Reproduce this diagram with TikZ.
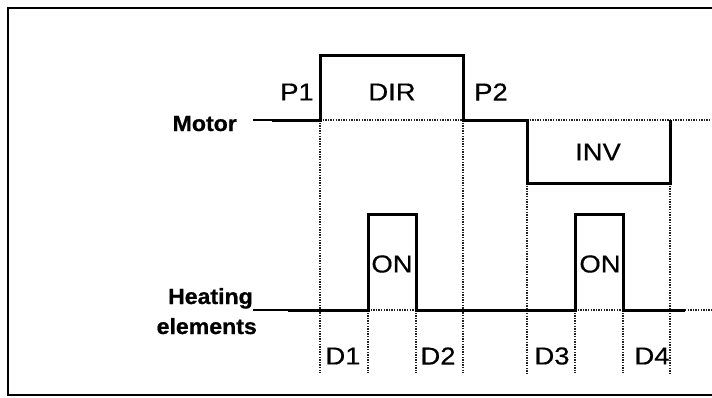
\documentclass[tikz,border=0pt]{standalone}
\usepackage{fontspec}
\setmainfont{Liberation Sans}[FakeStretch=1.12, FakeBold=0.4]
\newfontfamily\signamefont{Liberation Sans}[FakeStretch=1.05, FakeBold=0.8]
\usepackage{tikz}
\usetikzlibrary{positioning}
\definecolor{inkblack}{HTML}{000000}
\definecolor{guidegrey}{HTML}{222222}
\tikzset{
  wave/.style={draw=inkblack, line width=3pt, line join=miter},
  leadline/.style={draw=inkblack, line width=1.4pt},
  guide/.style={draw=guidegrey, line width=1.3pt, dash pattern=on 1.3pt off 1.3pt},
  signame/.style={font=\signamefont\fontsize{22}{24}\selectfont\bfseries, inner sep=0pt},
  phase/.style={font=\fontsize{24.5}{26}\selectfont, inner sep=0pt},
}
\begin{document}
\begin{tikzpicture}[x=1pt, y=-1pt]
  \useasboundingbox (0,0) rectangle (712,397);
  % frame, open to the right
  \draw[line width=2pt] (712,8) -- (8,8) -- (8,395) -- (712,395);

  % time marks
  \coordinate (t1) at (320,0);
  \coordinate (t2) at (463,0);
  \coordinate (t3) at (527,0);
  \coordinate (t4) at (670,0);
  \coordinate (on1) at (368,0);
  \coordinate (off1) at (416,0);
  \coordinate (on2) at (575,0);
  \coordinate (off2) at (623,0);

  % guides
  \draw[guide] (t1 |- 0,120) -- (t1 |- 0,373);
  \draw[guide] (t2 |- 0,120) -- (t2 |- 0,373);
  \draw[guide] (t3 |- 0,183) -- (t3 |- 0,373);
  \draw[guide] (t4 |- 0,183) -- (t4 |- 0,373);
  \draw[guide] (on1 |- 0,310) -- (on1 |- 0,373);
  \draw[guide] (off1 |- 0,310) -- (off1 |- 0,373);
  \draw[guide] (on2 |- 0,310) -- (on2 |- 0,373);
  \draw[guide] (off2 |- 0,310) -- (off2 |- 0,373);
  \draw[guide] (t1 |- 0,120) -- (t2 |- 0,120);
  \draw[guide] (t3 |- 0,120) -- (712,120);
  \draw[guide] (on1 |- 0,310) -- (off1 |- 0,310);
  \draw[guide] (on2 |- 0,310) -- (off2 |- 0,310);
  \draw[guide] (685,310) -- (712,310);

  % motor
  \node[signame, anchor=base east] (motor) at (237,131) {Motor};
  \coordinate (mlead) at (253,120);
  \coordinate (mstart) at (272,120);
  \draw[leadline] (mlead) -- (mstart);
  \draw[wave] (mstart) -- (t1 |- 0,120) -- (t1 |- 0,55) -- (t2 |- 0,55)
    -- (t2 |- 0,120) -- (t3 |- 0,120) -- (t3 |- 0,183) -- (t4 |- 0,183)
    -- (t4 |- 0,120);

  % heating elements
  \node[signame, anchor=base east] (heat) at (253,304) {Heating};
  \node[signame, anchor=base east] (elem) at (257,334) {elements};
  \coordinate (hlead) at (253,310);
  \coordinate (hstart) at (288,310);
  \draw[leadline] (hlead) -- (hstart);
  \draw[wave] (hstart) -- (on1 |- 0,310) -- (on1 |- 0,214) -- (off1 |- 0,214)
    -- (off1 |- 0,310) -- (on2 |- 0,310) -- (on2 |- 0,214) -- (off2 |- 0,214)
    -- (off2 |- 0,310) -- (685,310);

  % labels
  \node[phase] (p1) at (297,92) {P1};
  \node[phase] (dir) at (392,92) {DIR};
  \node[phase] (p2) at (491,92) {P2};
  \node[phase] (inv) at (598,152) {INV};
  \node[phase] (hon1) at (392,264) {ON};
  \node[phase] (hon2) at (600,264) {ON};
  \node[phase] (d1) at (343,356) {D1};
  \node[phase] (d2) at (438,356) {D2};
  \node[phase] (d3) at (552,356) {D3};
  \node[phase] (d4) at (652,356) {D4};
\end{tikzpicture}
\end{document}
